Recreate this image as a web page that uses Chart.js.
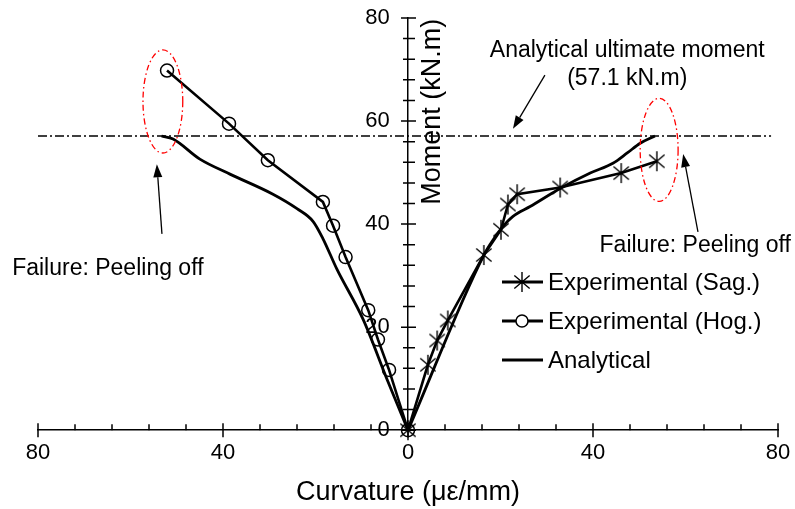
<!DOCTYPE html>
<html>
<head>
<meta charset="utf-8">
<script src="https://cdn.jsdelivr.net/npm/chart.js@4.4.1/dist/chart.umd.min.js"></script>
<style>
  body { margin: 0; background: #fff; }
  #wrap { width: 795px; height: 509px; }
</style>
</head>
<body>
<div id="wrap"><canvas id="chart" width="795" height="509"></canvas></div>
<script>
// Hogging test (left side, negative curvature)
const hogX = [-52.1, -38.7, -30.3, -18.4, -16.2, -13.5, -8.6, -6.5, -4.1, 0];
const hogY = [69.8, 59.5, 52.4, 44.3, 39.7, 33.6, 23.3, 17.6, 11.7, 0];

// Sagging test (right side)
const sagX = [0, 4.3, 6.3, 8.6, 16.4, 20.1, 21.6, 23.6, 32.9, 46.1, 53.8];
const sagY = [0, 12.7, 17.4, 21.3, 34.0, 38.9, 43.8, 45.8, 47.1, 49.9, 52.2];

// Analytical curves
const anaLeftX = [-53.3, -50.8, -45.0, -38.5, -29.2, -24.0, -20.5, -18.4, -15.4, -9.7, -4.5, 0];
const anaLeftY = [57.1, 56.5, 52.6, 49.7, 45.8, 43.0, 40.5, 37.2, 31.3, 21.5, 9.8, 0];
const anaRightX = [0, 16.4, 18.6, 20.5, 22.7, 26.4, 32.9, 39.4, 44.3, 47.4, 50.2, 53.4];
const anaRightY = [0, 34.0, 37.2, 39.5, 41.5, 43.4, 46.9, 49.9, 51.8, 53.8, 55.7, 57.1];

const ultimateMoment = 57.1;
const ultimateSpan = [-80, 78.5];

const xTickLabels = [80, 40, 0, 40, 80];
const yTickLabels = [0, 20, 40, 60, 80];

const FONT = "'Liberation Sans', Arial, sans-serif";

const toPts = (xs, ys) => xs.map((v, i) => ({ x: v, y: ys[i] }));

// asterisk marker (vertical + X)
function makeStar(size) {
  const c = document.createElement('canvas');
  c.width = size; c.height = size;
  const g = c.getContext('2d');
  const r = size / 2 - 1, m = size / 2;
  const a = 40 * Math.PI / 180;
  g.strokeStyle = '#000';
  g.lineWidth = 1.4;
  g.beginPath();
  g.moveTo(m, m - r); g.lineTo(m, m + r);
  g.moveTo(m - r * Math.cos(a), m - r * Math.sin(a)); g.lineTo(m + r * Math.cos(a), m + r * Math.sin(a));
  g.moveTo(m - r * Math.cos(a), m + r * Math.sin(a)); g.lineTo(m + r * Math.cos(a), m - r * Math.sin(a));
  g.stroke();
  return c;
}
const star = makeStar(22);

// annotations, in data units
const ellipses = [
  { x: -53.0, y: 63.8, rx: 4.3, ry: 10.0 },
  { x: 54.3, y: 54.4, rx: 4.1, ry: 10.0 },
];
const arrows = [
  { from: [29.6, 68.9], to: [22.7, 58.5] },
  { from: [-53.2, 38.1], to: [-54.3, 51.6] },
  { from: [62.7, 38.5], to: [59.5, 53.6] },
];
const notes = [
  { text: 'Analytical ultimate moment', x: 47.4, y: 73.7 },
  { text: '(57.1 kN.m)', x: 47.4, y: 68.3 },
  { text: 'Failure: Peeling off', x: -64.9, y: 31.3 },
  { text: 'Failure: Peeling off', x: 62.1, y: 35.8 },
];
const legendItems = [
  { label: 'Experimental (Sag.)', marker: 'star' },
  { label: 'Experimental (Hog.)', marker: 'circle' },
  { label: 'Analytical', marker: null },
];

const overlay = {
  id: 'overlay',
  afterDatasetsDraw(chart) {
    const { ctx, scales: { x, y } } = chart;
    const x0 = x.getPixelForValue(0);
    const y0 = y.getPixelForValue(0);
    ctx.save();
    ctx.strokeStyle = '#000';
    ctx.lineWidth = 1.5;
    ctx.beginPath();
    x.ticks.forEach(t => {
      const px = x.getPixelForValue(t.value);
      if (t.value % 40 === 0) { ctx.moveTo(px, y0 - 7); ctx.lineTo(px, y0 + 7); }
      else { ctx.moveTo(px, y0 - 6); ctx.lineTo(px, y0); }
    });
    y.ticks.forEach(t => {
      const py = y.getPixelForValue(t.value);
      if (t.value % 20 === 0) { ctx.moveTo(x0 - 7, py); ctx.lineTo(x0 + 8, py); }
      else { ctx.moveTo(x0 - 5, py); ctx.lineTo(x0 + 7, py); }
    });
    ctx.stroke();

    // red failure ellipses
    ctx.strokeStyle = '#ff0000';
    ctx.lineWidth = 1.3;
    ctx.setLineDash([6, 3, 1.5, 3]);
    ellipses.forEach(e => {
      const cx = x.getPixelForValue(e.x), cy = y.getPixelForValue(e.y);
      const rx = x.getPixelForValue(e.x + e.rx) - cx;
      const ry = cy - y.getPixelForValue(e.y + e.ry);
      ctx.beginPath();
      ctx.ellipse(cx, cy, rx, ry, 0, 0, Math.PI * 2);
      ctx.stroke();
    });
    ctx.setLineDash([]);

    // arrows
    ctx.strokeStyle = '#000';
    ctx.fillStyle = '#000';
    ctx.lineWidth = 1.3;
    arrows.forEach(a => {
      const fx = x.getPixelForValue(a.from[0]), fy = y.getPixelForValue(a.from[1]);
      const tx = x.getPixelForValue(a.to[0]), ty = y.getPixelForValue(a.to[1]);
      const ang = Math.atan2(ty - fy, tx - fx);
      const hl = 13, hw = 4.5;
      const bx = tx - hl * Math.cos(ang), by = ty - hl * Math.sin(ang);
      ctx.beginPath();
      ctx.moveTo(fx, fy); ctx.lineTo(bx, by);
      ctx.stroke();
      ctx.beginPath();
      ctx.moveTo(tx, ty);
      ctx.lineTo(bx + hw * Math.sin(ang), by - hw * Math.cos(ang));
      ctx.lineTo(bx - hw * Math.sin(ang), by + hw * Math.cos(ang));
      ctx.closePath();
      ctx.fill();
    });

    // notes
    ctx.font = '23px ' + FONT;
    ctx.textAlign = 'center';
    ctx.textBaseline = 'middle';
    notes.forEach(n => ctx.fillText(n.text, x.getPixelForValue(n.x), y.getPixelForValue(n.y)));

    // y axis title, right of the axis
    ctx.save();
    ctx.translate(x0 + 25, y.getPixelForValue(61.8));
    ctx.rotate(-Math.PI / 2);
    ctx.font = '27px ' + FONT;
    ctx.fillText('Moment (kN.m)', 0, 0);
    ctx.restore();

    // legend
    const lx = 502, ly = 282, gap = 39;
    ctx.font = '24px ' + FONT;
    ctx.textAlign = 'left';
    legendItems.forEach((it, i) => {
      const yy = ly + i * gap;
      ctx.lineWidth = 3;
      ctx.beginPath();
      ctx.moveTo(lx, yy); ctx.lineTo(lx + 41, yy);
      ctx.stroke();
      if (it.marker === 'star') ctx.drawImage(star, lx + 20 - star.width / 2, yy - star.height / 2);
      if (it.marker === 'circle') {
        ctx.lineWidth = 1.5;
        ctx.fillStyle = '#fff';
        ctx.beginPath();
        ctx.arc(lx + 20, yy, 6, 0, Math.PI * 2);
        ctx.fill();
        ctx.stroke();
        ctx.fillStyle = '#000';
      }
      ctx.fillText(it.label, lx + 46, yy + 1);
    });
    ctx.restore();
  }
};

// let the layout padding alone decide where the plot area sits
const noEdgePadding = scale => {
  scale.paddingLeft = 0;
  scale.paddingRight = 0;
  scale.paddingTop = 0;
  scale.paddingBottom = 0;
};

new Chart(document.getElementById('chart'), {
  type: 'line',
  data: {
    datasets: [
      {
        label: 'Experimental (Sag.)',
        data: toPts(sagX, sagY),
        borderColor: '#000',
        borderWidth: 2.6,
        tension: 0,
        pointStyle: star,
        pointRadius: 10,
        clip: false,
      },
      {
        label: 'Experimental (Hog.)',
        data: toPts(hogX, hogY),
        borderColor: '#000',
        borderWidth: 2.6,
        tension: 0,
        pointStyle: 'circle',
        pointRadius: 6.5,
        pointBorderWidth: 1.5,
        pointBorderColor: '#000',
        pointBackgroundColor: 'rgba(0,0,0,0)',
        clip: false,
      },
      {
        label: 'Analytical',
        data: toPts(anaLeftX, anaLeftY),
        borderColor: '#000',
        borderWidth: 2.8,
        cubicInterpolationMode: 'monotone',
        pointRadius: 0,
        clip: false,
      },
      {
        label: 'Analytical (right)',
        data: toPts(anaRightX, anaRightY),
        borderColor: '#000',
        borderWidth: 2.8,
        cubicInterpolationMode: 'monotone',
        pointRadius: 0,
        clip: false,
      },
      {
        label: 'Analytical ultimate moment',
        data: ultimateSpan.map(v => ({ x: v, y: ultimateMoment })),
        borderColor: '#000',
        borderWidth: 1.5,
        borderDash: [9, 3, 2, 3],
        pointRadius: 0,
      },
    ]
  },
  options: {
    responsive: false,
    animation: false,
    events: [],
    layout: { padding: { left: 38, right: 17, top: 18, bottom: 0 } },
    plugins: {
      legend: { display: false },
      tooltip: { enabled: false },
    },
    scales: {
      x: {
        type: 'linear',
        min: -80,
        max: 80,
        afterFit: noEdgePadding,
        grid: { display: false, drawTicks: false },
        border: { display: true, color: '#000', width: 1.5 },
        ticks: {
          stepSize: 8,
          autoSkip: false,
          maxRotation: 0,
          padding: 10,
          color: '#000',
          font: { family: FONT, size: 22 },
          callback: v => (v % 40 === 0 ? xTickLabels[(v + 80) / 40] : ''),
        },
        title: {
          display: true,
          text: 'Curvature (με/mm)',
          color: '#000',
          font: { family: FONT, size: 27 },
          padding: { top: 0, bottom: 0 },
        },
      },
      y: {
        type: 'linear',
        position: { x: 0 },
        min: 0,
        max: 80,
        afterFit: noEdgePadding,
        grid: { display: false, drawTicks: false },
        border: { display: true, color: '#000', width: 1.5 },
        ticks: {
          stepSize: 4,
          autoSkip: false,
          padding: 0,
          color: '#000',
          font: { family: FONT, size: 22 },
          // trailing spaces keep the labels clear of the centred axis
          callback: v => (v % 20 === 0 ? yTickLabels[v / 20] + '   ' : ''),
        },
      },
    },
  },
  plugins: [overlay],
});
</script>
</body>
</html>
